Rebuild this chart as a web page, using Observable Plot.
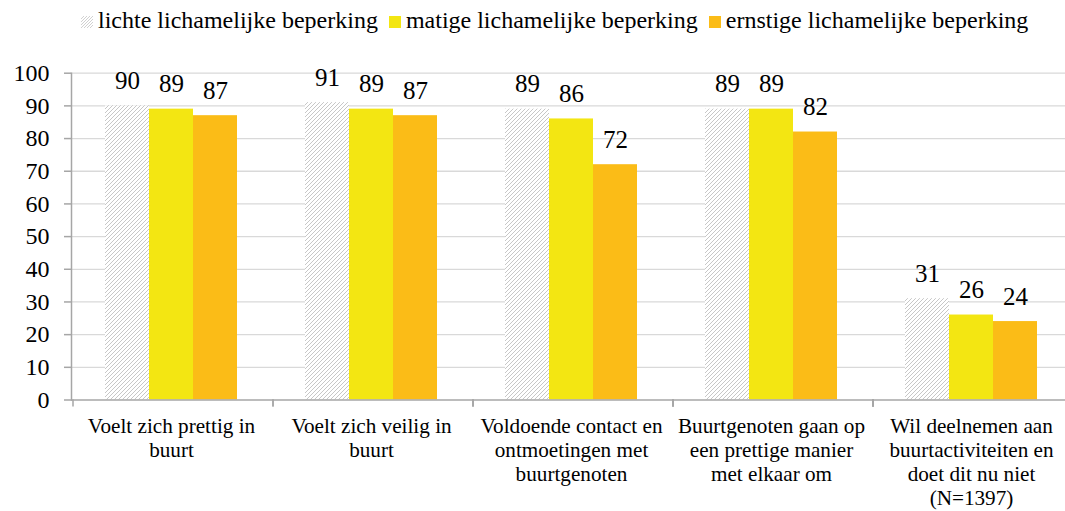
<!DOCTYPE html>
<html>
<head>
<meta charset="utf-8">
<script src="https://cdn.jsdelivr.net/npm/d3@7"></script>
<script src="https://cdn.jsdelivr.net/npm/@observablehq/plot@0.6"></script>
<style>
  html, body { margin: 0; padding: 0; background: #fff; overflow: hidden; }
  #legend { box-sizing: border-box; height: 40px; display: flex; align-items: flex-start; padding-top: 7px; padding-left: 81px; font-family: "Liberation Serif", "Times New Roman", serif; font-size: 24px; color: #000; white-space: nowrap; }
  #legend .item { display: flex; align-items: center; margin-right: 11px; }
  #legend svg { margin-right: 5px; position: relative; top: 1px; }
  #chart svg text { font-family: "Liberation Serif", "Times New Roman", serif; }
</style>
</head>
<body>
<div id="legend"></div>
<div id="chart"></div>
<script>
const categories = [
  "Voelt zich prettig in\nbuurt",
  "Voelt zich veilig in\nbuurt",
  "Voldoende contact en\nontmoetingen met\nbuurtgenoten",
  "Buurtgenoten gaan op\neen prettige manier\nmet elkaar om",
  "Wil deelnemen aan\nbuurtactiviteiten en\ndoet dit nu niet\n(N=1397)"
];
const series = ["lichte lichamelijke beperking", "matige lichamelijke beperking", "ernstige lichamelijke beperking"];
const lichte = [90, 91, 89, 89, 31];
const matige = [89, 89, 86, 89, 26];
const ernstige = [87, 87, 72, 82, 24];
const yTicks = [0, 10, 20, 30, 40, 50, 60, 70, 80, 90, 100];
const seriesFills = ["url(#hatch)", "#F3E612", "#FBBC17"];

const valuesBySeries = [lichte, matige, ernstige];
const data = [];
categories.forEach((c, i) => {
  series.forEach((s, j) => data.push({category: c, series: s, value: valuesBySeries[j][i]}));
});

const font = "'Liberation Serif', 'Times New Roman', serif";
const axisGrey = "#a6a6a6";

// Legend
const legend = d3.select("#legend");
series.forEach((s, j) => {
  const item = legend.append("div").attr("class", "item");
  const sw = item.append("svg").attr("width", 12).attr("height", 12);
  if (j === 0) {
    const p = sw.append("defs").append("pattern").attr("id", "hatchLegend")
      .attr("patternUnits", "userSpaceOnUse").attr("width", 3).attr("height", 3);
    p.append("path").attr("d", "M-1,1 l2,-2 M0,3 l3,-3 M2,4 l2,-2").attr("stroke", "#bdbdbd").attr("stroke-width", 0.7);
    sw.append("rect").attr("width", 12).attr("height", 12).attr("fill", "url(#hatchLegend)");
  } else {
    sw.append("rect").attr("width", 12).attr("height", 12).attr("fill", seriesFills[j]);
  }
  item.append("span").text(s);
});

const boundaryTicks = (index, scales, values, dims) => {
  const g = d3.create("svg:g");
  const y0 = dims.height - dims.marginBottom;
  let xs;
  if (scales.fx) {
    const bw = scales.scales && scales.scales.fx ? scales.scales.fx.bandwidth : (dims.width - dims.marginLeft - dims.marginRight) / categories.length;
    xs = categories.map(c => scales.fx(c));
    xs.push(xs[xs.length - 1] + bw);
  } else {
    const step = (dims.width - dims.marginLeft - dims.marginRight) / categories.length;
    xs = d3.range(categories.length + 1).map(i => dims.marginLeft + i * step);
  }
  g.append("path")
    .attr("d", xs.map(x => `M${x},${y0}v7`).join(""))
    .attr("stroke", axisGrey).attr("stroke-width", 1.5).attr("fill", "none");
  return g.node();
};

const chart = Plot.plot({
  width: 1065,
  height: 471,
  marginLeft: 69,
  marginRight: -8,
  marginTop: 32.7,
  marginBottom: 111.5,
  style: {fontFamily: font, background: "#fff", overflow: "visible"},
  fx: {domain: categories, padding: 0, label: null},
  x: {domain: series, paddingInner: 0, paddingOuter: 0.75, axis: null},
  y: {domain: [0, 100], axis: null},
  color: {domain: series, range: seriesFills},
  marks: [
    Plot.gridY(yTicks.filter(t => t > 0), {stroke: "#d9d9d9", strokeOpacity: 1, strokeWidth: 1.3}),
    Plot.barY(data, {fx: "category", x: "series", y: "value", fill: "series", inset: 0}),
    Plot.text(data, {fx: "category", x: "series", y: "value", text: d => String(d.value), dy: -25, fontSize: 25, fontFamily: font, fill: "#000"}),
    Plot.ruleY([0], {stroke: axisGrey, strokeWidth: 1.5}),
    Plot.frame({anchor: "left", facetAnchor: "left", stroke: axisGrey, strokeWidth: 1.5}),
    Plot.axisY({ticks: yTicks, tickSize: 7, tickPadding: 15, fontSize: 24, fontFamily: font, stroke: axisGrey, strokeWidth: 1.5, fill: "#000", label: null}),
    Plot.axisFx({anchor: "bottom", tickSize: 0, tickPadding: 16, fontSize: 21.2, lineHeight: 1.13, fontFamily: font, fill: "#000", label: null}),
    boundaryTicks
  ]
});

const svg = d3.select(chart.tagName === "svg" ? chart : chart.querySelector("svg"));
const defs = svg.insert("defs", ":first-child");
const pat = defs.append("pattern").attr("id", "hatch")
  .attr("patternUnits", "userSpaceOnUse").attr("width", 4).attr("height", 4);
pat.append("rect").attr("width", 4).attr("height", 4).attr("fill", "#fff");
pat.append("path").attr("d", "M-1,1 l2,-2 M0,4 l4,-4 M3,5 l2,-2").attr("stroke", "#b4b4b4").attr("stroke-width", 0.75);

document.getElementById("chart").appendChild(chart);
</script>
</body>
</html>
